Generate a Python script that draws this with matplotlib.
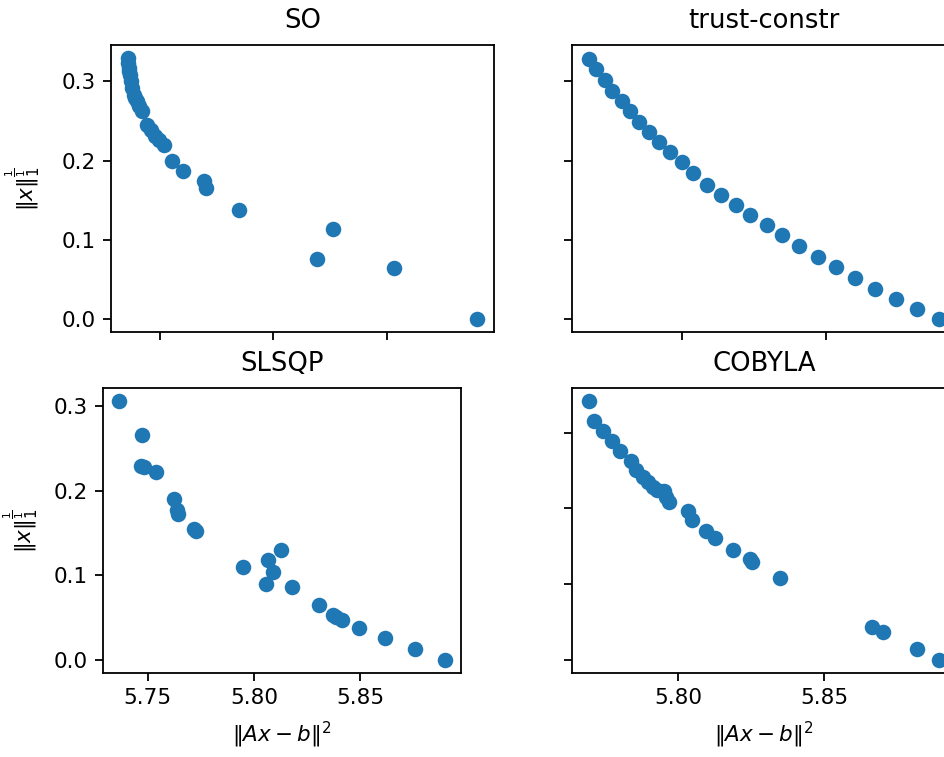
import matplotlib
matplotlib.use("Agg")
import matplotlib.pyplot as plt

# ---- data: residual ||Ax-b||^2 vs. regularisation term for each solver ----
titles = ["SO", "trust-constr", "SLSQP", "COBYLA"]

so_resid = [5.7363, 5.7363, 5.7365, 5.7367, 5.7370, 5.7373, 5.7380, 5.7387,
            5.7392, 5.7399, 5.7409, 5.7424, 5.7446, 5.7461, 5.7482, 5.7497,
            5.7519, 5.7556, 5.7604, 5.7697, 5.7706, 5.7848, 5.8192, 5.8260,
            5.8528, 5.8893]
so_norm = [0.3294, 0.3231, 0.3168, 0.3125, 0.3084, 0.3000, 0.2916, 0.2832,
           0.2790, 0.2748, 0.2685, 0.2631, 0.2454, 0.2391, 0.2307, 0.2265,
           0.2193, 0.2000, 0.1866, 0.1748, 0.1647, 0.1370, 0.0752, 0.1139,
           0.0639, 0.0000]

tc_resid = [5.7678, 5.7701, 5.7733, 5.7756, 5.7791, 5.7819, 5.7851, 5.7886,
            5.7921, 5.7956, 5.7999, 5.8039, 5.8086, 5.8135, 5.8186, 5.8236,
            5.8294, 5.8346, 5.8406, 5.8470, 5.8535, 5.8601, 5.8670, 5.8743,
            5.8815, 5.8890]
tc_norm = [0.3286, 0.3160, 0.3021, 0.2874, 0.2748, 0.2622, 0.2487, 0.2361,
           0.2231, 0.2109, 0.1979, 0.1837, 0.1689, 0.1563, 0.1437, 0.1307,
           0.1181, 0.1055, 0.0920, 0.0785, 0.0655, 0.0513, 0.0382, 0.0256,
           0.0122, 0.0000]

slsqp_resid = [5.7366, 5.7471, 5.7468, 5.7482, 5.7537, 5.7625, 5.7639, 5.7644,
               5.7717, 5.7725, 5.7948, 5.8066, 5.8089, 5.8058, 5.8129, 5.8181,
               5.8306, 5.8372, 5.8388, 5.8414, 5.8493, 5.8615, 5.8757, 5.8898]
slsqp_norm = [0.3059, 0.2656, 0.2296, 0.2277, 0.2218, 0.1905, 0.1768, 0.1729,
              0.1545, 0.1529, 0.1095, 0.1181, 0.1045, 0.0899, 0.1298, 0.0860,
              0.0653, 0.0528, 0.0505, 0.0477, 0.0379, 0.0262, 0.0136, 0.0000]

cobyla_resid = [5.7696, 5.7713, 5.7742, 5.7773, 5.7801, 5.7838, 5.7856, 5.7881,
                5.7895, 5.7913, 5.7927, 5.7950, 5.7959, 5.7967, 5.8035, 5.8047,
                5.8096, 5.8127, 5.8189, 5.8244, 5.8252, 5.8349, 5.8663, 5.8701,
                5.8817, 5.8891]
cobyla_norm = [0.3416, 0.3146, 0.3024, 0.2893, 0.2754, 0.2618, 0.2501, 0.2414,
               0.2349, 0.2284, 0.2239, 0.2225, 0.2153, 0.2088, 0.1965, 0.1847,
               0.1703, 0.1608, 0.1455, 0.1337, 0.1294, 0.1085, 0.0441, 0.0366,
               0.0140, 0.0000]

xlabel = r"$\|Ax-b\|^2$"
ylabel = r"$\|x\|_1^{\frac{1}{1}}$"

# ---- styling ----
plt.rcParams.update({
    "font.family": "DejaVu Sans",
    "font.size": 15.5,
    "axes.titlesize": 18.6,
    "axes.labelsize": 15.5,
    "axes.linewidth": 1.3,
    "xtick.major.size": 5.5,
    "ytick.major.size": 5.5,
    "xtick.major.width": 1.3,
    "ytick.major.width": 1.3,
    "xtick.major.pad": 5.5,
    "ytick.major.pad": 5.5,
})

FIG_W, FIG_H = 945, 757
fig = plt.figure(figsize=(FIG_W / 100, FIG_H / 100), dpi=100)


def box(left, top, right, bottom):
    """Axes rectangle from pixel edges (origin top-left)."""
    return [left / FIG_W, 1 - bottom / FIG_H,
            (right - left) / FIG_W, (bottom - top) / FIG_H]


ax_so = fig.add_axes(box(111, 45, 494, 332))
ax_tc = fig.add_axes(box(572, 45, 956, 332))
ax_sl = fig.add_axes(box(103, 388, 461, 673))
ax_co = fig.add_axes(box(572, 388, 956, 673))

panels = [
    (ax_so, so_resid, so_norm),
    (ax_tc, tc_resid, tc_norm),
    (ax_sl, slsqp_resid, slsqp_norm),
    (ax_co, cobyla_resid, cobyla_norm),
]

for (ax, xs, ys), title in zip(panels, titles):
    ax.scatter(xs, ys, s=125, color="#1f77b4", linewidths=0)
    ax.set_title(title, pad=12)

# top row shares the y scale
ax_tc.set_ylim(ax_so.get_ylim())

# tick labels only on the outer edges
ax_so.tick_params(labelbottom=False)
ax_tc.tick_params(labelbottom=False, labelleft=False)
ax_co.tick_params(labelleft=False)

for ax in (ax_sl, ax_co):
    ax.set_xlabel(xlabel, labelpad=8)

ax_so.set_ylabel(ylabel)
ax_sl.set_ylabel(ylabel)
ax_so.yaxis.set_label_coords((42 - 111) / 383, 0.5)
ax_sl.yaxis.set_label_coords((40 - 103) / 358, 0.5)

fig.savefig("out.png", dpi=100)
